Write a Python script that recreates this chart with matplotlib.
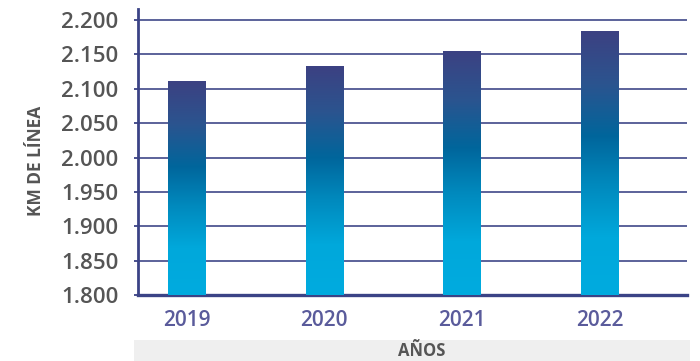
import numpy as np
import matplotlib
matplotlib.use('Agg')
import matplotlib.pyplot as plt
from matplotlib.colors import LinearSegmentedColormap
from matplotlib.patches import Rectangle

years = ['2019', '2020', '2021', '2022']
km_linea = [2111, 2133, 2155, 2184]
y_ticks = [1800, 1850, 1900, 1950, 2000, 2050, 2100, 2150, 2200]

navy = '#3b4386'
label_gray = '#555555'
year_color = '#5a5b9b'

# degradado de abajo (cian) hacia arriba (azul marino)
grad = LinearSegmentedColormap.from_list('barra', [
    (0.0, '#00abdf'), (0.22, '#00a8db'), (0.42, '#0089bd'),
    (0.60, '#00669c'), (0.80, '#2b548f'), (1.0, '#3c4182')])

plt.rcParams['font.family'] = ['Open Sans', 'DejaVu Sans']

fig = plt.figure(figsize=(7, 3.61), dpi=100)
ax = fig.add_axes([138/700, 66/361, 549/700, 286/361])

x = np.arange(len(years))
bars = ax.bar(x, km_linea, width=0.27, bottom=0, color='none', zorder=3)

g = np.linspace(0, 1, 256).reshape(-1, 1)
for b, v in zip(bars, km_linea):
    x0 = b.get_x()
    im = ax.imshow(g, cmap=grad, origin='lower', aspect='auto',
                   extent=[x0, x0 + b.get_width(), 1800, v], zorder=3)
    im.set_clip_path(b)
ax.set_xlim(-0.352, 3.635)
ax.set_ylim(1800, 2216)

ax.set_yticks(y_ticks)
ax.set_yticklabels([f'{t:,}'.replace(',', '.') for t in y_ticks])
ax.set_xticks(x)
ax.set_xticklabels(years)

ax.set_axisbelow(True)
ax.yaxis.grid(True, color=navy, linewidth=1.3, alpha=0.9)
for s in ['top', 'right']:
    ax.spines[s].set_visible(False)
ax.spines['left'].set_color(navy)
ax.spines['left'].set_linewidth(2)
ax.spines['bottom'].set_color(navy)
ax.spines['bottom'].set_linewidth(2.4)

ax.tick_params(axis='y', length=3, width=1.3, color=navy, pad=11,
               labelsize=16, labelcolor=label_gray)
ax.tick_params(axis='x', length=0, pad=11, labelsize=15, labelcolor=year_color)
for lab in ax.get_yticklabels():
    lab.set_fontweight('semibold')
for lab in ax.get_xticklabels():
    lab.set_fontweight('semibold')

fig.text(36/700, 1 - 161/361, 'KM DE LÍNEA', rotation=90, ha='center', va='center',
         fontsize=12.5, fontweight='bold', color=label_gray)

fig.patches.append(Rectangle((134/700, 0), 556/700, 21/361, transform=fig.transFigure,
                             facecolor='#efefef', edgecolor='none', zorder=0))
fig.text(422/700, 10/361, 'AÑOS', ha='center', va='center',
         fontsize=12, fontweight='bold', color=label_gray)

fig.savefig('out.png', dpi=100)
